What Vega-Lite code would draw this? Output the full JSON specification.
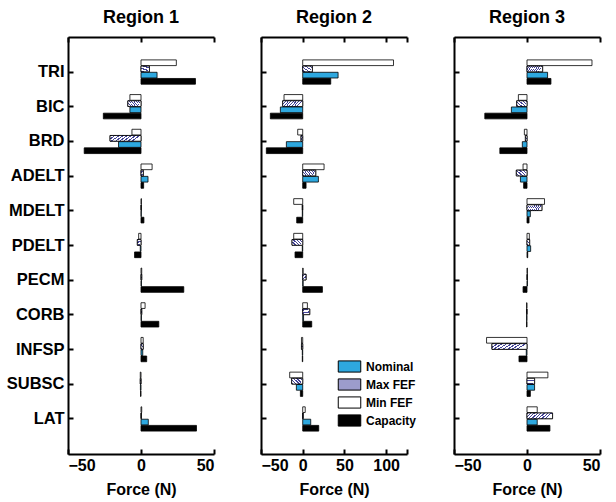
{
  "$schema": "https://vega.github.io/schema/vega-lite/v6.json",
  "padding": {"left": 6, "top": 9, "right": 5, "bottom": 2},
  "background": "white",
  "config": {
    "font": "Liberation Sans",
    "view": {"stroke": null},
    "axis": {"domainColor": "black", "domainWidth": 2, "tickColor": "black", "tickWidth": 2, "tickSize": -5, "labelColor": "black", "labelFont": "Liberation Sans", "labelFontWeight": "bold", "labelFontSize": 16, "titleFont": "Liberation Sans", "titleFontWeight": "bold", "titleFontSize": 16, "titleColor": "black", "grid": false},
    "title": {"font": "Liberation Sans", "fontSize": 18, "fontWeight": "bold", "color": "black", "offset": 8}
  },
  "data": {"values": [
    {"region": "Region 1", "muscle": "TRI", "series": "Nominal", "force": 11},
    {"region": "Region 1", "muscle": "TRI", "series": "Max FEF", "force": 5.8},
    {"region": "Region 1", "muscle": "TRI", "series": "Min FEF", "force": 24.2},
    {"region": "Region 1", "muscle": "TRI", "series": "Capacity", "force": 37.3},
    {"region": "Region 1", "muscle": "BIC", "series": "Nominal", "force": -7.6},
    {"region": "Region 1", "muscle": "BIC", "series": "Max FEF", "force": -9},
    {"region": "Region 1", "muscle": "BIC", "series": "Min FEF", "force": -7.6},
    {"region": "Region 1", "muscle": "BIC", "series": "Capacity", "force": -25.8},
    {"region": "Region 1", "muscle": "BRD", "series": "Nominal", "force": -15.4},
    {"region": "Region 1", "muscle": "BRD", "series": "Max FEF", "force": -21.2},
    {"region": "Region 1", "muscle": "BRD", "series": "Min FEF", "force": -6.2},
    {"region": "Region 1", "muscle": "BRD", "series": "Capacity", "force": -38.9},
    {"region": "Region 1", "muscle": "ADELT", "series": "Nominal", "force": 4.8},
    {"region": "Region 1", "muscle": "ADELT", "series": "Max FEF", "force": 1.6},
    {"region": "Region 1", "muscle": "ADELT", "series": "Min FEF", "force": 7.6},
    {"region": "Region 1", "muscle": "ADELT", "series": "Capacity", "force": 1.8},
    {"region": "Region 1", "muscle": "MDELT", "series": "Nominal", "force": 0.2},
    {"region": "Region 1", "muscle": "MDELT", "series": "Max FEF", "force": 0.3},
    {"region": "Region 1", "muscle": "MDELT", "series": "Min FEF", "force": 0.3},
    {"region": "Region 1", "muscle": "MDELT", "series": "Capacity", "force": 2},
    {"region": "Region 1", "muscle": "PDELT", "series": "Nominal", "force": -0.5},
    {"region": "Region 1", "muscle": "PDELT", "series": "Max FEF", "force": -2.5},
    {"region": "Region 1", "muscle": "PDELT", "series": "Min FEF", "force": -1.6},
    {"region": "Region 1", "muscle": "PDELT", "series": "Capacity", "force": -4.4},
    {"region": "Region 1", "muscle": "PECM", "series": "Nominal", "force": 0.3},
    {"region": "Region 1", "muscle": "PECM", "series": "Max FEF", "force": 0.5},
    {"region": "Region 1", "muscle": "PECM", "series": "Min FEF", "force": 0.5},
    {"region": "Region 1", "muscle": "PECM", "series": "Capacity", "force": 29.3},
    {"region": "Region 1", "muscle": "CORB", "series": "Nominal", "force": 0.3},
    {"region": "Region 1", "muscle": "CORB", "series": "Max FEF", "force": 0.5},
    {"region": "Region 1", "muscle": "CORB", "series": "Min FEF", "force": 2.8},
    {"region": "Region 1", "muscle": "CORB", "series": "Capacity", "force": 12.2},
    {"region": "Region 1", "muscle": "INFSP", "series": "Nominal", "force": 1.2},
    {"region": "Region 1", "muscle": "INFSP", "series": "Max FEF", "force": 1.5},
    {"region": "Region 1", "muscle": "INFSP", "series": "Min FEF", "force": 1.5},
    {"region": "Region 1", "muscle": "INFSP", "series": "Capacity", "force": 3.9},
    {"region": "Region 1", "muscle": "SUBSC", "series": "Nominal", "force": -0.4},
    {"region": "Region 1", "muscle": "SUBSC", "series": "Max FEF", "force": -0.5},
    {"region": "Region 1", "muscle": "SUBSC", "series": "Min FEF", "force": -0.5},
    {"region": "Region 1", "muscle": "SUBSC", "series": "Capacity", "force": -0.3},
    {"region": "Region 1", "muscle": "LAT", "series": "Nominal", "force": 5},
    {"region": "Region 1", "muscle": "LAT", "series": "Max FEF", "force": 0.3},
    {"region": "Region 1", "muscle": "LAT", "series": "Min FEF", "force": 0.5},
    {"region": "Region 1", "muscle": "LAT", "series": "Capacity", "force": 38},
    {"region": "Region 2", "muscle": "TRI", "series": "Nominal", "force": 42.4},
    {"region": "Region 2", "muscle": "TRI", "series": "Max FEF", "force": 11.6},
    {"region": "Region 2", "muscle": "TRI", "series": "Min FEF", "force": 108.8},
    {"region": "Region 2", "muscle": "TRI", "series": "Capacity", "force": 33.6},
    {"region": "Region 2", "muscle": "BIC", "series": "Nominal", "force": -26.8},
    {"region": "Region 2", "muscle": "BIC", "series": "Max FEF", "force": -24},
    {"region": "Region 2", "muscle": "BIC", "series": "Min FEF", "force": -22.4},
    {"region": "Region 2", "muscle": "BIC", "series": "Capacity", "force": -38.8},
    {"region": "Region 2", "muscle": "BRD", "series": "Nominal", "force": -19.6},
    {"region": "Region 2", "muscle": "BRD", "series": "Max FEF", "force": -2},
    {"region": "Region 2", "muscle": "BRD", "series": "Min FEF", "force": -6},
    {"region": "Region 2", "muscle": "BRD", "series": "Capacity", "force": -43.6},
    {"region": "Region 2", "muscle": "ADELT", "series": "Nominal", "force": 18.8},
    {"region": "Region 2", "muscle": "ADELT", "series": "Max FEF", "force": 15.6},
    {"region": "Region 2", "muscle": "ADELT", "series": "Min FEF", "force": 25.6},
    {"region": "Region 2", "muscle": "ADELT", "series": "Capacity", "force": 4},
    {"region": "Region 2", "muscle": "MDELT", "series": "Nominal", "force": -0.5},
    {"region": "Region 2", "muscle": "MDELT", "series": "Max FEF", "force": -0.5},
    {"region": "Region 2", "muscle": "MDELT", "series": "Min FEF", "force": -10.8},
    {"region": "Region 2", "muscle": "MDELT", "series": "Capacity", "force": -7.2},
    {"region": "Region 2", "muscle": "PDELT", "series": "Nominal", "force": -0.5},
    {"region": "Region 2", "muscle": "PDELT", "series": "Max FEF", "force": -12.8},
    {"region": "Region 2", "muscle": "PDELT", "series": "Min FEF", "force": -10.8},
    {"region": "Region 2", "muscle": "PDELT", "series": "Capacity", "force": -9.2},
    {"region": "Region 2", "muscle": "PECM", "series": "Nominal", "force": 0.5},
    {"region": "Region 2", "muscle": "PECM", "series": "Max FEF", "force": 4},
    {"region": "Region 2", "muscle": "PECM", "series": "Min FEF", "force": 0.5},
    {"region": "Region 2", "muscle": "PECM", "series": "Capacity", "force": 23.6},
    {"region": "Region 2", "muscle": "CORB", "series": "Nominal", "force": 1},
    {"region": "Region 2", "muscle": "CORB", "series": "Max FEF", "force": 8.4},
    {"region": "Region 2", "muscle": "CORB", "series": "Min FEF", "force": 5.6},
    {"region": "Region 2", "muscle": "CORB", "series": "Capacity", "force": 10.8},
    {"region": "Region 2", "muscle": "INFSP", "series": "Nominal", "force": -0.5},
    {"region": "Region 2", "muscle": "INFSP", "series": "Max FEF", "force": -1.5},
    {"region": "Region 2", "muscle": "INFSP", "series": "Min FEF", "force": -1.5},
    {"region": "Region 2", "muscle": "INFSP", "series": "Capacity", "force": -0.5},
    {"region": "Region 2", "muscle": "SUBSC", "series": "Nominal", "force": -7.6},
    {"region": "Region 2", "muscle": "SUBSC", "series": "Max FEF", "force": -13.2},
    {"region": "Region 2", "muscle": "SUBSC", "series": "Min FEF", "force": -15.6},
    {"region": "Region 2", "muscle": "SUBSC", "series": "Capacity", "force": -2.8},
    {"region": "Region 2", "muscle": "LAT", "series": "Nominal", "force": 9.6},
    {"region": "Region 2", "muscle": "LAT", "series": "Max FEF", "force": 0.5},
    {"region": "Region 2", "muscle": "LAT", "series": "Min FEF", "force": 3},
    {"region": "Region 2", "muscle": "LAT", "series": "Capacity", "force": 19.2},
    {"region": "Region 3", "muscle": "TRI", "series": "Nominal", "force": 14.1},
    {"region": "Region 3", "muscle": "TRI", "series": "Max FEF", "force": 10.7},
    {"region": "Region 3", "muscle": "TRI", "series": "Min FEF", "force": 44.5},
    {"region": "Region 3", "muscle": "TRI", "series": "Capacity", "force": 16.4},
    {"region": "Region 3", "muscle": "BIC", "series": "Nominal", "force": -10.7},
    {"region": "Region 3", "muscle": "BIC", "series": "Max FEF", "force": -7},
    {"region": "Region 3", "muscle": "BIC", "series": "Min FEF", "force": -5.9},
    {"region": "Region 3", "muscle": "BIC", "series": "Capacity", "force": -28.9},
    {"region": "Region 3", "muscle": "BRD", "series": "Nominal", "force": -3.2},
    {"region": "Region 3", "muscle": "BRD", "series": "Max FEF", "force": -1.1},
    {"region": "Region 3", "muscle": "BRD", "series": "Min FEF", "force": -1.8},
    {"region": "Region 3", "muscle": "BRD", "series": "Capacity", "force": -18.6},
    {"region": "Region 3", "muscle": "ADELT", "series": "Nominal", "force": -4.5},
    {"region": "Region 3", "muscle": "ADELT", "series": "Max FEF", "force": -7.3},
    {"region": "Region 3", "muscle": "ADELT", "series": "Min FEF", "force": -2.7},
    {"region": "Region 3", "muscle": "ADELT", "series": "Capacity", "force": -2.3},
    {"region": "Region 3", "muscle": "MDELT", "series": "Nominal", "force": 2.3},
    {"region": "Region 3", "muscle": "MDELT", "series": "Max FEF", "force": 10.2},
    {"region": "Region 3", "muscle": "MDELT", "series": "Min FEF", "force": 12},
    {"region": "Region 3", "muscle": "MDELT", "series": "Capacity", "force": 1.4},
    {"region": "Region 3", "muscle": "PDELT", "series": "Nominal", "force": 2.5},
    {"region": "Region 3", "muscle": "PDELT", "series": "Max FEF", "force": 1.8},
    {"region": "Region 3", "muscle": "PDELT", "series": "Min FEF", "force": 1.6},
    {"region": "Region 3", "muscle": "PDELT", "series": "Capacity", "force": 0.5},
    {"region": "Region 3", "muscle": "PECM", "series": "Nominal", "force": 0.3},
    {"region": "Region 3", "muscle": "PECM", "series": "Max FEF", "force": 0.3},
    {"region": "Region 3", "muscle": "PECM", "series": "Min FEF", "force": 0.3},
    {"region": "Region 3", "muscle": "PECM", "series": "Capacity", "force": -2.7},
    {"region": "Region 3", "muscle": "CORB", "series": "Nominal", "force": -0.3},
    {"region": "Region 3", "muscle": "CORB", "series": "Max FEF", "force": -0.3},
    {"region": "Region 3", "muscle": "CORB", "series": "Min FEF", "force": -0.3},
    {"region": "Region 3", "muscle": "CORB", "series": "Capacity", "force": -0.3},
    {"region": "Region 3", "muscle": "INFSP", "series": "Nominal", "force": -0.5},
    {"region": "Region 3", "muscle": "INFSP", "series": "Max FEF", "force": -24},
    {"region": "Region 3", "muscle": "INFSP", "series": "Min FEF", "force": -27.7},
    {"region": "Region 3", "muscle": "INFSP", "series": "Capacity", "force": -5.5},
    {"region": "Region 3", "muscle": "SUBSC", "series": "Nominal", "force": 5.2},
    {"region": "Region 3", "muscle": "SUBSC", "series": "Max FEF", "force": 5.2},
    {"region": "Region 3", "muscle": "SUBSC", "series": "Min FEF", "force": 14.3},
    {"region": "Region 3", "muscle": "SUBSC", "series": "Capacity", "force": 2.3},
    {"region": "Region 3", "muscle": "LAT", "series": "Nominal", "force": 7},
    {"region": "Region 3", "muscle": "LAT", "series": "Max FEF", "force": 17.5},
    {"region": "Region 3", "muscle": "LAT", "series": "Min FEF", "force": 7},
    {"region": "Region 3", "muscle": "LAT", "series": "Capacity", "force": 15.7}
  ]},
  "bounds": "flush",
  "spacing": 47,
  "resolve": {"legend": {"fill": "independent"}},
  "hconcat": [
    {
      "title": "Region 1",
      "width": 146, "height": 417,
      "transform": [{"filter": "datum.region === 'Region 1'"}],
      "resolve": {"axis": {"x": "independent"}},
      "layer": [
        {
          "mark": {"type": "bar", "stroke": "black", "strokeWidth": 0.8},
          "encoding": {
            "y": {"field": "muscle", "type": "nominal", "sort": ["TRI","BIC","BRD","ADELT","MDELT","PDELT","PECM","CORB","INFSP","SUBSC","LAT"], "scale": {"paddingInner": 0.3, "paddingOuter": 0.66}, "axis": {"title": null, "labelPadding": 9, "labelFontSize": 16.5}},
            "yOffset": {"field": "series", "type": "nominal", "sort": ["Min FEF","Max FEF","Nominal","Capacity"], "scale": {"paddingInner": 0.08}},
            "x": {"field": "force", "type": "quantitative", "scale": {"domain": [-50, 50], "nice": false}, "axis": {"values": [-50, 0, 50], "title": "Force (N)", "labelPadding": 8, "titlePadding": 8}},
            "fill": {"field": "series", "type": "nominal", "scale": {"domain": ["Nominal","Max FEF","Min FEF","Capacity"], "range": ["#2EA8DF", "#9C9CCC", "#ffffff", "#000000"]}, "legend": null}
          }
        },
        {
          "transform": [{"filter": "datum.series === 'Max FEF'"}],
          "mark": {"type": "bar", "stroke": "black", "strokeWidth": 0.8, "fill": {"gradient": "linear", "x1": 0, "y1": 0, "x2": 1, "y2": 0.25, "stops": [
              {"offset": 0, "color": "#45459A"}, {"offset": 0.05, "color": "#45459A"}, {"offset": 0.05, "color": "#ffffff"}, {"offset": 0.125, "color": "#ffffff"},
              {"offset": 0.125, "color": "#45459A"}, {"offset": 0.175, "color": "#45459A"}, {"offset": 0.175, "color": "#ffffff"}, {"offset": 0.25, "color": "#ffffff"},
              {"offset": 0.25, "color": "#45459A"}, {"offset": 0.3, "color": "#45459A"}, {"offset": 0.3, "color": "#ffffff"}, {"offset": 0.375, "color": "#ffffff"},
              {"offset": 0.375, "color": "#45459A"}, {"offset": 0.425, "color": "#45459A"}, {"offset": 0.425, "color": "#ffffff"}, {"offset": 0.5, "color": "#ffffff"},
              {"offset": 0.5, "color": "#45459A"}, {"offset": 0.55, "color": "#45459A"}, {"offset": 0.55, "color": "#ffffff"}, {"offset": 0.625, "color": "#ffffff"},
              {"offset": 0.625, "color": "#45459A"}, {"offset": 0.675, "color": "#45459A"}, {"offset": 0.675, "color": "#ffffff"}, {"offset": 0.75, "color": "#ffffff"},
              {"offset": 0.75, "color": "#45459A"}, {"offset": 0.8, "color": "#45459A"}, {"offset": 0.8, "color": "#ffffff"}, {"offset": 0.875, "color": "#ffffff"},
              {"offset": 0.875, "color": "#45459A"}, {"offset": 0.925, "color": "#45459A"}, {"offset": 0.925, "color": "#ffffff"}, {"offset": 1, "color": "#ffffff"}
            ]}},
          "encoding": {
            "y": {"field": "muscle", "type": "nominal", "sort": ["TRI","BIC","BRD","ADELT","MDELT","PDELT","PECM","CORB","INFSP","SUBSC","LAT"]},
            "yOffset": {"field": "series", "type": "nominal", "sort": ["Min FEF","Max FEF","Nominal","Capacity"]},
            "x": {"field": "force", "type": "quantitative", "axis": {"orient": "top", "values": [-50, 0, 50], "labelOpacity": 0, "labelFontSize": 1, "labelPadding": 0, "title": "top", "titleOpacity": 0, "titleFontSize": 1, "titlePadding": 0}}
          }
        }
      ]
    },
    {
      "title": "Region 2",
      "width": 146, "height": 417,
      "transform": [{"filter": "datum.region === 'Region 2'"}],
      "resolve": {"axis": {"x": "independent"}},
      "layer": [
        {
          "mark": {"type": "bar", "stroke": "black", "strokeWidth": 0.8},
          "encoding": {
            "y": {"field": "muscle", "type": "nominal", "sort": ["TRI","BIC","BRD","ADELT","MDELT","PDELT","PECM","CORB","INFSP","SUBSC","LAT"], "scale": {"paddingInner": 0.3, "paddingOuter": 0.66}, "axis": {"title": null, "labels": false}},
            "yOffset": {"field": "series", "type": "nominal", "sort": ["Min FEF","Max FEF","Nominal","Capacity"], "scale": {"paddingInner": 0.08}},
            "x": {"field": "force", "type": "quantitative", "scale": {"domain": [-50, 125], "nice": false}, "axis": {"values": [-50, 0, 50, 100, 125], "labelExpr": "datum.value == 125 ? '' : datum.label", "title": "Force (N)", "labelPadding": 8, "titlePadding": 8}},
            "fill": {"field": "series", "type": "nominal", "scale": {"domain": ["Nominal","Max FEF","Min FEF","Capacity"]}, "legend": {"orient": "none", "legendX": 79, "legendY": 320, "title": null, "padding": 0, "symbolType": "M-1.25,-0.62H1.25V0.62H-1.25Z", "symbolSize": 324, "labelFontSize": 12, "labelFontWeight": "bold", "labelFont": "Liberation Sans", "labelColor": "black", "rowPadding": 0, "labelOffset": 7, "symbolOpacity": 1, "symbolStrokeColor": "black", "symbolStrokeWidth": 1,
              "encode": {"symbols": {"update": {"stroke": {"value": "black"}, "strokeWidth": {"value": 1}}}}}}
          }
        },
        {
          "transform": [{"filter": "datum.series === 'Max FEF'"}],
          "mark": {"type": "bar", "stroke": "black", "strokeWidth": 0.8, "fill": {"gradient": "linear", "x1": 0, "y1": 0, "x2": 1, "y2": 0.25, "stops": [
              {"offset": 0, "color": "#45459A"}, {"offset": 0.05, "color": "#45459A"}, {"offset": 0.05, "color": "#ffffff"}, {"offset": 0.125, "color": "#ffffff"},
              {"offset": 0.125, "color": "#45459A"}, {"offset": 0.175, "color": "#45459A"}, {"offset": 0.175, "color": "#ffffff"}, {"offset": 0.25, "color": "#ffffff"},
              {"offset": 0.25, "color": "#45459A"}, {"offset": 0.3, "color": "#45459A"}, {"offset": 0.3, "color": "#ffffff"}, {"offset": 0.375, "color": "#ffffff"},
              {"offset": 0.375, "color": "#45459A"}, {"offset": 0.425, "color": "#45459A"}, {"offset": 0.425, "color": "#ffffff"}, {"offset": 0.5, "color": "#ffffff"},
              {"offset": 0.5, "color": "#45459A"}, {"offset": 0.55, "color": "#45459A"}, {"offset": 0.55, "color": "#ffffff"}, {"offset": 0.625, "color": "#ffffff"},
              {"offset": 0.625, "color": "#45459A"}, {"offset": 0.675, "color": "#45459A"}, {"offset": 0.675, "color": "#ffffff"}, {"offset": 0.75, "color": "#ffffff"},
              {"offset": 0.75, "color": "#45459A"}, {"offset": 0.8, "color": "#45459A"}, {"offset": 0.8, "color": "#ffffff"}, {"offset": 0.875, "color": "#ffffff"},
              {"offset": 0.875, "color": "#45459A"}, {"offset": 0.925, "color": "#45459A"}, {"offset": 0.925, "color": "#ffffff"}, {"offset": 1, "color": "#ffffff"}
            ]}},
          "encoding": {
            "y": {"field": "muscle", "type": "nominal", "sort": ["TRI","BIC","BRD","ADELT","MDELT","PDELT","PECM","CORB","INFSP","SUBSC","LAT"]},
            "yOffset": {"field": "series", "type": "nominal", "sort": ["Min FEF","Max FEF","Nominal","Capacity"]},
            "x": {"field": "force", "type": "quantitative", "axis": {"orient": "top", "values": [-50, 0, 50, 100, 125], "labelOpacity": 0, "labelFontSize": 1, "labelPadding": 0, "title": "top", "titleOpacity": 0, "titleFontSize": 1, "titlePadding": 0}}
          }
        }
      ]
    },
    {
      "title": "Region 3",
      "width": 146, "height": 417,
      "transform": [{"filter": "datum.region === 'Region 3'"}],
      "resolve": {"axis": {"x": "independent"}},
      "layer": [
        {
          "mark": {"type": "bar", "stroke": "black", "strokeWidth": 0.8},
          "encoding": {
            "y": {"field": "muscle", "type": "nominal", "sort": ["TRI","BIC","BRD","ADELT","MDELT","PDELT","PECM","CORB","INFSP","SUBSC","LAT"], "scale": {"paddingInner": 0.3, "paddingOuter": 0.66}, "axis": {"title": null, "labels": false}},
            "yOffset": {"field": "series", "type": "nominal", "sort": ["Min FEF","Max FEF","Nominal","Capacity"], "scale": {"paddingInner": 0.08}},
            "x": {"field": "force", "type": "quantitative", "scale": {"domain": [-50, 50], "nice": false}, "axis": {"values": [-50, 0, 50], "title": "Force (N)", "labelPadding": 8, "titlePadding": 8}},
            "fill": {"field": "series", "type": "nominal", "scale": {"domain": ["Nominal","Max FEF","Min FEF","Capacity"]}, "legend": null}
          }
        },
        {
          "transform": [{"filter": "datum.series === 'Max FEF'"}],
          "mark": {"type": "bar", "stroke": "black", "strokeWidth": 0.8, "fill": {"gradient": "linear", "x1": 0, "y1": 0, "x2": 1, "y2": 0.25, "stops": [
              {"offset": 0, "color": "#45459A"}, {"offset": 0.05, "color": "#45459A"}, {"offset": 0.05, "color": "#ffffff"}, {"offset": 0.125, "color": "#ffffff"},
              {"offset": 0.125, "color": "#45459A"}, {"offset": 0.175, "color": "#45459A"}, {"offset": 0.175, "color": "#ffffff"}, {"offset": 0.25, "color": "#ffffff"},
              {"offset": 0.25, "color": "#45459A"}, {"offset": 0.3, "color": "#45459A"}, {"offset": 0.3, "color": "#ffffff"}, {"offset": 0.375, "color": "#ffffff"},
              {"offset": 0.375, "color": "#45459A"}, {"offset": 0.425, "color": "#45459A"}, {"offset": 0.425, "color": "#ffffff"}, {"offset": 0.5, "color": "#ffffff"},
              {"offset": 0.5, "color": "#45459A"}, {"offset": 0.55, "color": "#45459A"}, {"offset": 0.55, "color": "#ffffff"}, {"offset": 0.625, "color": "#ffffff"},
              {"offset": 0.625, "color": "#45459A"}, {"offset": 0.675, "color": "#45459A"}, {"offset": 0.675, "color": "#ffffff"}, {"offset": 0.75, "color": "#ffffff"},
              {"offset": 0.75, "color": "#45459A"}, {"offset": 0.8, "color": "#45459A"}, {"offset": 0.8, "color": "#ffffff"}, {"offset": 0.875, "color": "#ffffff"},
              {"offset": 0.875, "color": "#45459A"}, {"offset": 0.925, "color": "#45459A"}, {"offset": 0.925, "color": "#ffffff"}, {"offset": 1, "color": "#ffffff"}
            ]}},
          "encoding": {
            "y": {"field": "muscle", "type": "nominal", "sort": ["TRI","BIC","BRD","ADELT","MDELT","PDELT","PECM","CORB","INFSP","SUBSC","LAT"]},
            "yOffset": {"field": "series", "type": "nominal", "sort": ["Min FEF","Max FEF","Nominal","Capacity"]},
            "x": {"field": "force", "type": "quantitative", "axis": {"orient": "top", "values": [-50, 0, 50], "labelOpacity": 0, "labelFontSize": 1, "labelPadding": 0, "title": "top", "titleOpacity": 0, "titleFontSize": 1, "titlePadding": 0}}
          }
        }
      ]
    }
  ]
}
